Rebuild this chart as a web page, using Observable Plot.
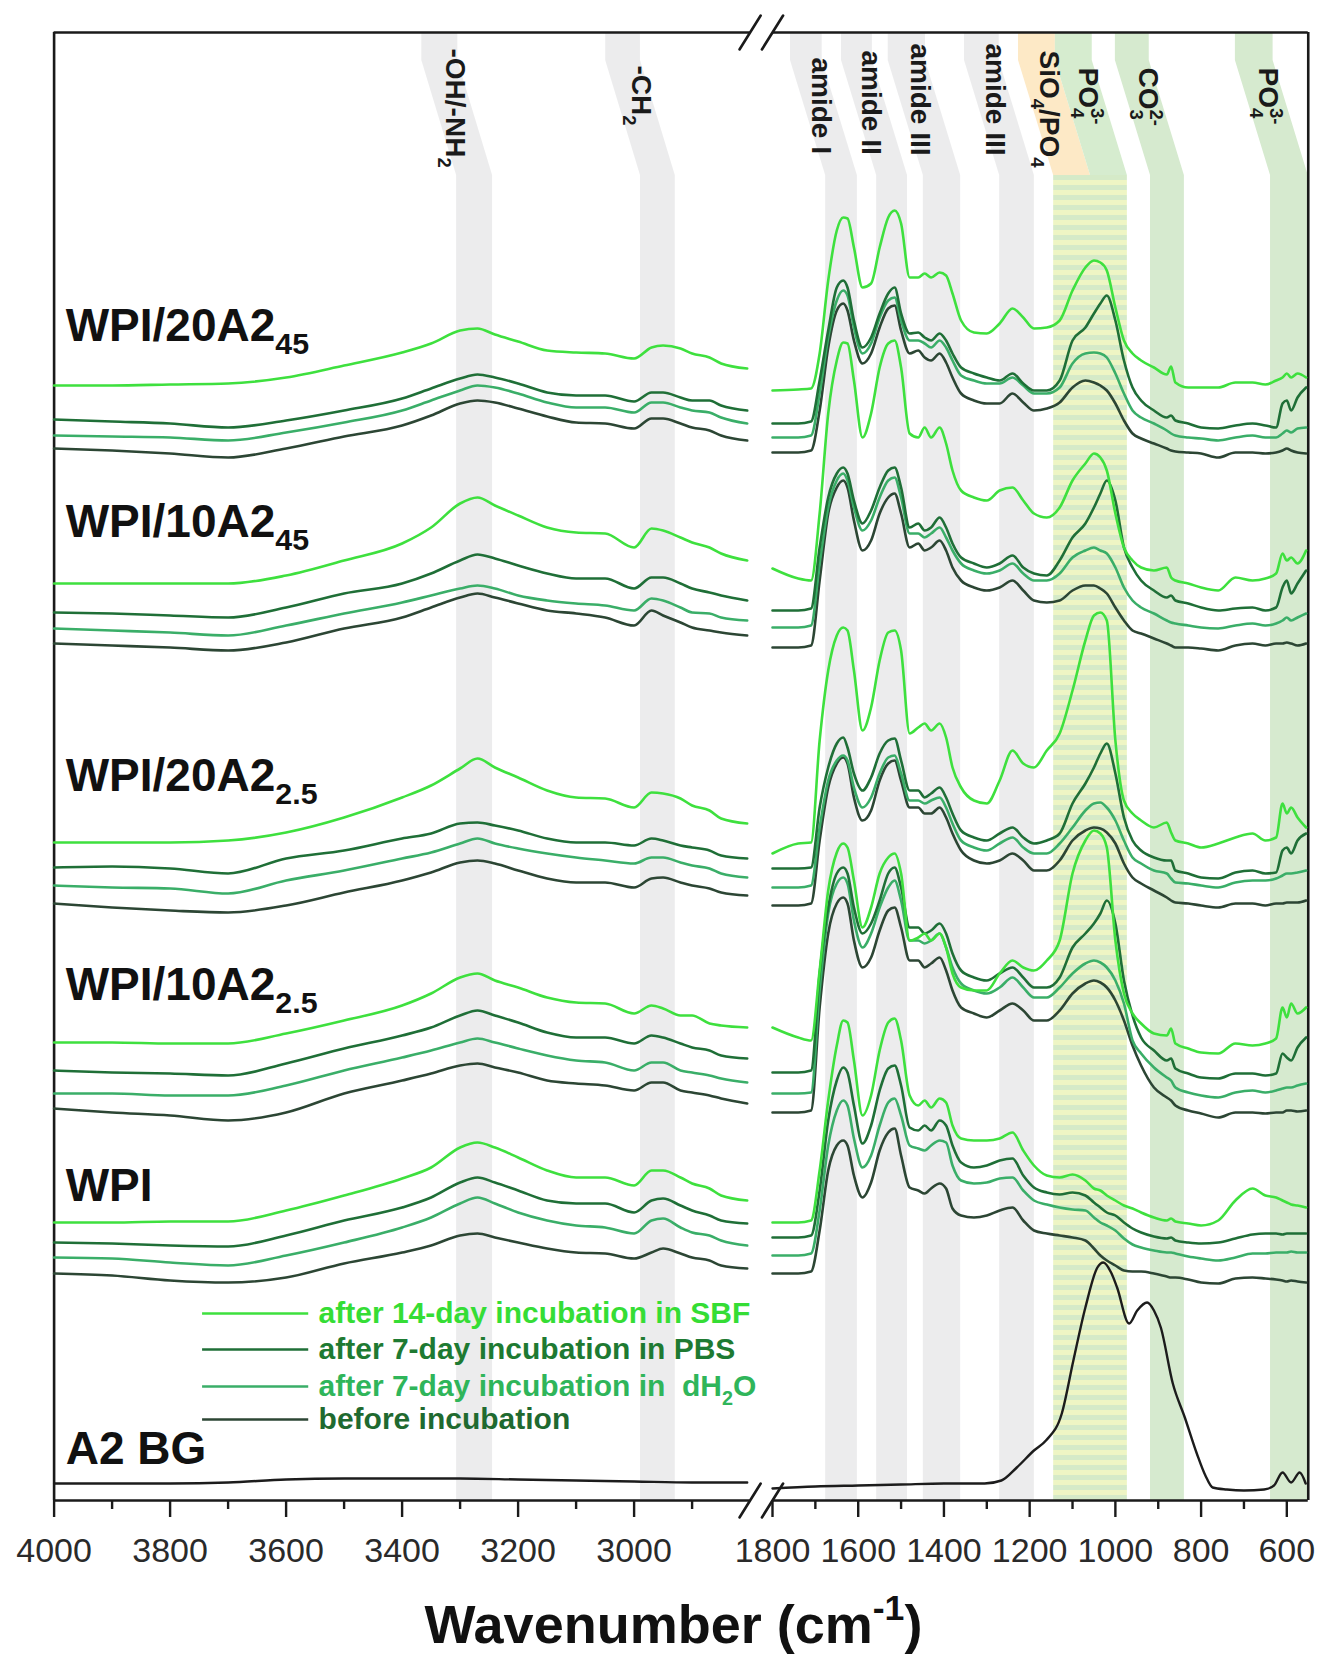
<!DOCTYPE html>
<html><head><meta charset="utf-8">
<script src="https://cdn.jsdelivr.net/npm/d3@7"></script>
<script src="https://cdn.jsdelivr.net/npm/@observablehq/plot@0.6"></script>
<style>
html,body{margin:0;padding:0;background:#fff;}
#chart{width:1322px;height:1655px;overflow:hidden;}
</style></head>
<body><div id="chart"></div>
<script>
// ---------- wavenumber grids (cm-1) ----------
const L = [4000,3900,3800,3700,3600,3500,3400,3350,3300,3270,3240,3200,3150,3100,3050,3000,2970,2950,2920,2900,2870,2850,2805];
const R = [1800,1740,1710,1690,1670,1650,1635,1625,1610,1590,1570,1550,1530,1515,1500,1480,1460,1445,1430,1410,1395,1380,1360,1330,1300,1270,1240,1215,1190,1160,1130,1100,1070,1050,1035,1020,1000,980,960,940,910,880,870,860,830,800,760,720,680,650,625,610,600,590,575,555];

// ---------- stacked absorbance (a.u., offset) : WPI/20A2_45 ----------
const g1_sbf_L = [1115,1115,1116,1117,1123,1135,1148,1157,1170,1172,1166,1159,1150,1148,1147,1142,1153,1155,1152,1147,1143,1137,1132];
const g1_pbs_L = [1081,1079,1077,1073,1080,1090,1102,1112,1122,1126,1123,1117,1108,1105,1105,1099,1108,1108,1103,1100,1100,1095,1090];
const g1_dh2o_L = [1065,1064,1063,1060,1068,1078,1090,1100,1110,1115,1113,1107,1098,1093,1093,1088,1098,1098,1093,1090,1088,1083,1077];
const g1_before_L = [1052,1050,1047,1043,1052,1064,1075,1085,1097,1100,1098,1092,1084,1078,1077,1072,1082,1082,1077,1073,1070,1065,1060];
const g1_sbf_R = [1110,1111,1112,1147,1220,1270,1283,1282,1253,1213,1217,1253,1283,1290,1277,1223,1223,1227,1223,1228,1225,1207,1180,1168,1167,1177,1192,1183,1172,1173,1180,1210,1233,1240,1238,1230,1193,1160,1147,1140,1133,1126,1134,1118,1113,1113,1113,1118,1118,1116,1120,1123,1127,1123,1127,1123];
const g1_pbs_R = [1077,1077,1079,1120,1170,1213,1220,1213,1180,1153,1163,1187,1207,1213,1187,1167,1168,1163,1160,1167,1160,1147,1133,1127,1123,1120,1127,1117,1110,1110,1120,1160,1173,1187,1197,1205,1180,1140,1113,1100,1090,1083,1085,1080,1077,1073,1072,1075,1077,1075,1073,1097,1100,1090,1103,1113];
const g1_dh2o_R = [1063,1063,1065,1107,1163,1200,1210,1205,1173,1147,1157,1183,1200,1203,1180,1160,1160,1157,1153,1160,1153,1140,1125,1120,1117,1117,1123,1115,1107,1107,1113,1137,1147,1148,1147,1143,1127,1107,1090,1083,1077,1070,1067,1065,1063,1062,1060,1063,1065,1063,1063,1067,1070,1068,1072,1073];
const g1_before_R = [1048,1048,1050,1090,1153,1190,1197,1190,1160,1137,1147,1173,1192,1195,1170,1147,1150,1143,1140,1147,1138,1123,1107,1100,1097,1097,1107,1098,1090,1092,1098,1113,1120,1118,1115,1110,1097,1080,1067,1062,1057,1052,1050,1049,1048,1047,1043,1048,1048,1047,1048,1050,1052,1050,1048,1047];

// ---------- WPI/10A2_45 ----------
const g2_sbf_L = [917,917,917,917,925,940,957,973,997,1003,995,985,973,968,967,953,972,970,963,958,953,947,940];
const g2_pbs_L = [888,887,885,883,893,907,917,927,940,946,942,935,927,922,922,912,923,923,917,912,908,905,900];
const g2_dh2o_L = [872,870,868,865,875,887,898,905,912,915,912,905,900,897,895,890,902,900,893,888,887,883,880];
const g2_before_L = [857,855,853,850,858,872,883,893,903,907,903,897,890,887,883,875,890,885,878,873,870,868,865];
const g2_sbf_R = [932,922,920,987,1087,1140,1158,1157,1120,1063,1087,1133,1157,1160,1133,1067,1063,1073,1063,1073,1057,1030,1010,1003,1000,1010,1013,1000,987,983,993,1020,1037,1047,1043,1030,987,953,940,933,930,933,923,920,917,913,910,923,920,922,927,947,940,943,937,950];
const g2_pbs_R = [890,890,892,953,1003,1027,1033,1027,1000,977,990,1013,1030,1033,1013,973,977,970,973,983,973,957,943,937,933,937,945,933,927,925,940,963,977,993,1007,1020,1000,953,933,920,910,903,905,900,897,893,890,892,893,890,893,913,920,907,917,930];
const g2_dh2o_R = [873,873,875,937,993,1020,1027,1020,993,970,980,1003,1020,1023,1003,967,967,963,967,973,963,950,937,930,927,930,937,927,920,920,927,943,950,953,950,947,933,913,900,893,887,880,878,877,875,873,872,875,877,875,877,880,883,880,883,887];
const g2_before_R = [853,853,855,920,987,1013,1020,1013,980,950,960,987,1003,1007,987,953,957,950,953,960,950,933,920,913,910,913,920,910,900,898,900,910,915,915,912,907,893,880,870,867,862,857,855,853,853,852,850,855,857,855,857,857,858,857,855,857];

// ---------- WPI/20A2_2.5 ----------
const g3_sbf_L = [658,658,658,660,668,683,703,715,732,742,733,723,710,703,702,693,708,707,702,695,690,682,677];
const g3_pbs_L = [633,634,632,627,642,650,662,667,677,678,675,670,662,658,658,655,662,660,655,653,650,645,642];
const g3_dh2o_L = [615,613,612,607,620,630,642,648,657,662,657,652,647,643,640,637,643,643,638,635,632,627,623];
const g3_before_L = [597,593,590,588,595,608,620,628,638,640,637,630,622,618,618,613,622,623,618,615,612,608,605];
const g3_sbf_R = [647,657,658,760,830,865,873,870,830,770,793,840,868,870,850,767,773,777,770,777,763,733,713,700,697,720,750,737,733,750,767,810,860,885,888,880,760,700,687,680,673,678,668,660,657,653,657,663,667,660,663,697,687,693,683,673];
const g3_pbs_R = [632,632,633,693,733,757,763,753,727,710,723,747,760,762,740,710,710,703,707,713,703,687,670,663,660,667,673,663,657,660,667,697,717,733,747,757,727,683,660,650,643,640,640,630,627,623,622,628,630,627,628,650,653,647,660,667];
const g3_dh2o_R = [613,613,615,673,720,740,745,740,713,693,703,727,743,745,727,700,700,697,700,703,693,677,660,653,650,657,663,653,647,647,657,673,690,697,698,693,680,660,643,637,630,627,622,618,617,615,613,618,620,620,622,625,627,627,628,630];
const g3_before_R = [595,595,597,660,713,737,743,737,703,680,690,720,737,740,720,693,693,687,687,693,683,667,650,640,637,640,647,640,630,630,640,660,670,673,672,668,657,637,623,617,610,603,600,598,597,595,593,597,597,595,597,597,598,598,598,600];

// ---------- WPI/10A2_2.5 ----------
const g4_sbf_L = [458,458,457,457,467,480,495,507,523,527,520,513,503,498,497,487,495,492,485,485,477,475,473];
const g4_pbs_L = [430,428,427,425,437,452,465,473,485,490,485,478,468,463,463,457,465,463,457,453,450,445,442];
const g4_dh2o_L = [407,407,405,405,415,430,443,450,458,462,458,452,445,440,438,430,438,438,430,428,425,422,418];
const g4_before_L = [392,388,385,380,388,407,420,427,435,437,433,428,420,417,415,410,418,418,410,408,405,402,397];
const g4_sbf_R = [473,463,460,530,610,648,657,653,620,573,593,627,643,647,627,560,563,567,560,567,553,527,513,510,510,527,540,533,530,540,560,627,660,670,667,653,560,507,487,477,467,465,472,457,452,448,447,457,455,457,462,493,483,497,487,493];
const g4_pbs_R = [428,428,430,527,593,627,633,627,593,567,577,600,627,633,613,573,573,567,570,577,567,547,530,523,520,527,533,523,513,513,523,553,567,577,587,600,577,520,485,463,450,440,442,432,427,423,422,427,427,425,427,447,443,440,453,463];
const g4_dh2o_R = [407,407,408,510,587,617,623,617,580,553,567,593,613,620,600,560,560,557,560,567,553,533,517,510,507,513,523,513,503,503,513,527,537,540,538,533,520,497,460,447,433,423,420,413,408,405,403,408,410,408,410,412,413,413,415,417];
const g4_before_R = [388,388,390,493,567,597,603,597,560,533,543,570,590,593,573,540,540,533,537,543,530,510,493,487,483,490,497,490,480,480,490,507,517,520,518,513,500,480,455,435,413,403,400,395,390,387,383,388,388,387,388,388,390,390,389,390];

// ---------- WPI ----------
const g5_sbf_L = [278,278,279,279,290,305,322,333,353,358,353,343,330,323,323,315,330,330,323,317,312,305,300];
const g5_pbs_L = [258,257,255,254,265,280,293,303,318,323,318,310,300,297,297,288,300,302,295,290,285,280,277];
const g5_dh2o_L = [243,242,238,235,245,258,273,283,297,303,297,288,280,275,273,267,280,282,273,268,265,260,255];
const g5_before_L = [227,225,220,218,223,237,248,255,265,267,263,258,252,248,247,242,248,252,247,243,240,235,232];
const g5_sbf_R = [278,278,280,330,400,455,480,478,440,385,405,450,478,482,460,405,395,400,393,402,398,375,362,360,360,362,368,350,335,325,323,326,320,312,310,305,300,295,292,288,283,280,282,279,277,275,280,300,312,305,303,300,298,296,295,293];
const g5_pbs_R = [263,263,265,310,380,420,433,428,395,357,375,410,432,435,415,373,370,375,370,380,375,355,338,333,335,340,342,325,313,308,306,308,305,298,293,288,285,278,272,268,264,262,263,260,258,257,258,262,266,267,267,266,267,267,267,267];
const g5_dh2o_R = [245,245,247,290,355,390,400,395,362,333,345,375,398,402,385,355,352,350,355,360,358,335,320,317,318,322,323,310,300,296,293,291,290,283,278,275,270,262,256,253,250,248,248,247,244,242,240,243,247,247,248,248,248,249,248,248];
const g5_before_R = [227,227,229,270,330,355,360,355,325,303,318,350,368,372,345,313,310,307,312,317,312,292,285,283,285,290,293,280,270,267,265,263,260,252,245,240,235,230,229,229,227,224,223,223,221,218,217,222,223,222,221,220,219,220,219,218];

// ---------- A2 BG ----------
const bgL_wn = [4000,3900,3800,3700,3600,3500,3400,3300,3200,3100,3000,2900,2805];
const bgL_v = [17,17,17,18,21,22,22,22,21,20,19,18,18];
const bgR_wn = [1800,1700,1600,1500,1400,1305,1266,1230,1190,1162,1125,1098,1070,1042,1028,1010,996,968,949,926,910,894,866,838,810,790,773,740,700,653,630,610,590,570,556];
const bgR_v = [12,14,15,16,17,17,20,33,50,60,87,140,193,233,238,228,213,177,190,198,190,173,117,83,47,25,13,11,10,11,15,28,18,28,17];

// ---------- series / legend ----------
const seriesKeys = ["before","dh2o","pbs","sbf"];
const seriesColors = ["#2c4634","#3aae68","#1f6f37","#3ee03e"];
const legendKeys = ["sbf","pbs","dh2o","before"];
const legendText = ["after 14-day incubation in SBF","after 7-day incubation in PBS","after 7-day incubation in  dH_{2}O","before incubation"];
const legendTextColors = ["#35dd35","#1e7a32","#2fb55a","#1f6a30"];
const legendV = [187,151,114,81];
const legendWn = [3744,3561,3544];

// ---------- sample labels ----------
const sampleLabels = ["WPI/20A2_{45}","WPI/10A2_{45}","WPI/20A2_{2.5}","WPI/10A2_{2.5}","WPI","A2 BG"];
const sampleLabelV = [1160,964,710,501,300,37];

// ---------- assignment bands ----------
const grayBandLo = [3306,2989,1676,1557,1448,1270];
const grayBandHi = [3244,2929,1602,1485,1361,1189];
const grayBandShift = [60,60,82,82,82,82];
const greenBandLo = [918,638];
const greenBandHi = [839,550];
const stripeBand = [1144,972];
const stripeSplit = 1058;
const bandLabels = ["-OH/-NH_{2}","-CH_{2}","amide I","amide II","amide III","amide III","SiO_{4}/PO_{4}","PO_{4}^{3-}","CO_{3}^{2-}","PO_{4}^{3-}"];
const bandLabelWn = [3308,2989,1688,1571,1455,1280,1156,1063,925,645];
const bandLabelV = [1452,1435,1443,1450,1457,1457,1450,1433,1433,1433];

// ---------- axis ----------
const majorTicks = [4000,3800,3600,3400,3200,3000,1800,1600,1400,1200,1000,800,600];
const minorTicks = [3900,3700,3500,3300,3100,2900,1700,1500,1300,1100,900,700];
const segLeft = [4000,2800];   // high-wavenumber segment
const segRight = [1800,550];   // fingerprint segment
const yTop = 1468;

// broken wavenumber axis: two linear segments joined by a small gap
const kLeft = 0.58, kRight = 0.4286, gap = 22.4;
function ux(wn) {
  return wn >= 2300 ? (segLeft[0] - wn) * kLeft
                    : (segLeft[0] - segLeft[1]) * kLeft + gap + (segRight[0] - wn) * kRight;
}
const uMax = ux(segRight[1]);

// ================== build tables ==================
const groups = [
  {id:"g1", L:{sbf:g1_sbf_L,pbs:g1_pbs_L,dh2o:g1_dh2o_L,before:g1_before_L}, R:{sbf:g1_sbf_R,pbs:g1_pbs_R,dh2o:g1_dh2o_R,before:g1_before_R}},
  {id:"g2", L:{sbf:g2_sbf_L,pbs:g2_pbs_L,dh2o:g2_dh2o_L,before:g2_before_L}, R:{sbf:g2_sbf_R,pbs:g2_pbs_R,dh2o:g2_dh2o_R,before:g2_before_R}},
  {id:"g3", L:{sbf:g3_sbf_L,pbs:g3_pbs_L,dh2o:g3_dh2o_L,before:g3_before_L}, R:{sbf:g3_sbf_R,pbs:g3_pbs_R,dh2o:g3_dh2o_R,before:g3_before_R}},
  {id:"g4", L:{sbf:g4_sbf_L,pbs:g4_pbs_L,dh2o:g4_dh2o_L,before:g4_before_L}, R:{sbf:g4_sbf_R,pbs:g4_pbs_R,dh2o:g4_dh2o_R,before:g4_before_R}},
  {id:"g5", L:{sbf:g5_sbf_L,pbs:g5_pbs_L,dh2o:g5_dh2o_L,before:g5_before_L}, R:{sbf:g5_sbf_R,pbs:g5_pbs_R,dh2o:g5_dh2o_R,before:g5_before_R}}
];
const rows = [];
for (const s of seriesKeys) for (const g of groups) {
  g.L[s].forEach((v,i) => rows.push({u:ux(L[i]), v, key:`${g.id}-${s}-L`, series:s}));
  g.R[s].forEach((v,i) => rows.push({u:ux(R[i]), v, key:`${g.id}-${s}-R`, series:s}));
}
const bgRows = [];
bgL_wn.forEach((w,i) => bgRows.push({u:ux(w), v:bgL_v[i], key:"bgL"}));
bgR_wn.forEach((w,i) => bgRows.push({u:ux(w), v:bgR_v[i], key:"bgR"}));

const bendLow = 1325, bendHigh = 1440;
function bandPoly(id, lo, hi, shift, from = 0) {
  return [
    {id, v: from, x1: ux(lo), x2: ux(hi)},
    {id, v: bendLow, x1: ux(lo), x2: ux(hi)},
    {id, v: bendHigh, x1: ux(lo + shift), x2: ux(hi + shift)},
    {id, v: yTop, x1: ux(lo + shift), x2: ux(hi + shift)}
  ];
}
const grayRows = grayBandLo.flatMap((lo,i) => bandPoly("g"+i, lo, grayBandHi[i], grayBandShift[i]));
const greenRows = greenBandLo.flatMap((lo,i) => bandPoly("c"+i, lo, greenBandHi[i], 82));
const stripeRows = [
  {id:"s", v:0, x1:ux(stripeBand[0]), x2:ux(stripeBand[1])},
  {id:"s", v:bendLow, x1:ux(stripeBand[0]), x2:ux(stripeBand[1])}
];
const orangeTop = bandPoly("o", stripeBand[0], stripeSplit, 82, bendLow);
const greenTop = bandPoly("gt", stripeSplit, stripeBand[1], 82, bendLow);

const legendRows = legendKeys.map((k,i) => ({series:k, v:legendV[i], text:legendText[i], color:legendTextColors[i]}));
const sampleRows = sampleLabels.map((t,i) => ({text:t, v:sampleLabelV[i], u:ux(3980)}));
const bandLabelRows = bandLabels.map((t,i) => ({text:t, u:ux(bandLabelWn[i]), v:bandLabelV[i]}));
const breakRows = [];
for (const w of [segLeft[1], segRight[0]]) for (const v of [0, yTop]) breakRows.push({u:ux(w), v});
const tickLabel = new Map(majorTicks.map(t => [Math.round(ux(t) * 100), String(t)]));

const FONT = "'Liberation Sans', Arial, Helvetica, sans-serif";
const INK = "#1a1a1a";
const slashShape = {draw(context, l) { context.moveTo(0, 0); context.lineTo(0, -l); }};

function build(useVector) {
  const marks = [
    Plot.areaX(grayRows, {y:"v", x1:"x1", x2:"x2", z:"id", fill:"#e9e9ea", fillOpacity:0.85, curve:"linear"}),
    Plot.areaX(greenRows, {y:"v", x1:"x1", x2:"x2", z:"id", fill:"#d6eacf", curve:"linear"}),
    Plot.areaX(stripeRows, {y:"v", x1:"x1", x2:"x2", z:"id", fill:"url(#stripes)", curve:"linear"}),
    Plot.areaX(orangeTop, {y:"v", x1:"x1", x2:"x2", z:"id", fill:"#fde9c6", curve:"linear"}),
    Plot.areaX(greenTop, {y:"v", x1:"x1", x2:"x2", z:"id", fill:"#d6eccf", curve:"linear"}),
    // frame (broken)
    Plot.ruleY([0, yTop], {x1:ux(segLeft[0]), x2:ux(segLeft[1]), stroke:INK, strokeWidth:2.6}),
    Plot.ruleY([0, yTop], {x1:ux(segRight[0]), x2:ux(segRight[1]), stroke:INK, strokeWidth:2.6}),
    Plot.ruleX([ux(segLeft[0]), ux(segRight[1])], {y1:0, y2:yTop, stroke:INK, strokeWidth:2.6}),
    // axes
    Plot.axisX(minorTicks.map(ux), {anchor:"bottom", tickSize:9, tickFormat:() => "", stroke:INK, strokeWidth:2.4, label:null}),
    Plot.axisX(majorTicks.map(ux), {anchor:"bottom", tickSize:17, tickPadding:20, tickFormat:u => tickLabel.get(Math.round(u * 100)) ?? "", fontSize:34, stroke:INK, strokeWidth:2.4, fill:"#2a2a2a", label:null}),
    // spectra
    Plot.line(rows, {x:"u", y:"v", z:"key", stroke:"series", strokeWidth:2.6, curve:"monotone-x", strokeLinejoin:"round"}),
    Plot.line(bgRows, {x:"u", y:"v", z:"key", stroke:"#1c1c1c", strokeWidth:2.4, curve:"monotone-x"}),
    // labels
    Plot.text(sampleRows, {x:"u", y:"v", text:"text", textAnchor:"start", lineAnchor:"bottom", fontSize:46, fontWeight:"bold", fill:"#111"}),
    Plot.text(bandLabelRows, {x:"u", y:"v", text:"text", rotate:90, textAnchor:"start", lineAnchor:"middle", fontSize:28, fontWeight:"bold", fill:"#1a1a1a"}),
    // legend
    Plot.ruleY(legendRows, {y:"v", x1:ux(legendWn[0]), x2:ux(legendWn[1]), stroke:"series", strokeWidth:2.6}),
    Plot.text(legendRows, {x:ux(legendWn[2]), y:"v", text:"text", fill:"color", textAnchor:"start", lineAnchor:"middle", fontSize:30, fontWeight:"bold"}),
    // axis title
    Plot.text(["Wavenumber (cm^{-1})"], {frameAnchor:"bottom", dx:-8, dy:142, lineAnchor:"bottom", text:d => d, fontSize:54, fontWeight:"bold", fill:"#111"})
  ];
  if (useVector) {
    marks.push(Plot.vector(breakRows, {x:"u", y:"v", length:40, rotate:32, anchor:"middle", shape:slashShape, stroke:INK, strokeWidth:2.6}));
  } else {
    marks.push(Plot.text(breakRows, {x:"u", y:"v", text:() => "/", fontSize:44, fill:INK}));
  }
  return Plot.plot({
    width:1322, height:1655,
    marginTop:32, marginBottom:155, marginLeft:54, marginRight:14,
    style:{fontFamily:FONT, background:"#fff", overflow:"visible"},
    x:{domain:[0, uMax], range:[53.6, 53.6 + uMax]},
    y:{domain:[0, yTop], range:[1500, 32], axis:null},
    color:{domain:seriesKeys, range:seriesColors},
    marks
  });
}

let svg;
try { svg = build(true); } catch (e) { console.error(e); svg = build(false); }
document.getElementById("chart").appendChild(svg);

// stripe pattern for the SiO4/PO4 band
const NS = "http://www.w3.org/2000/svg";
const defs = document.createElementNS(NS, "defs");
const pat = document.createElementNS(NS, "pattern");
pat.setAttribute("id", "stripes"); pat.setAttribute("patternUnits", "userSpaceOnUse");
pat.setAttribute("width", "10"); pat.setAttribute("height", "10");
const r1 = document.createElementNS(NS, "rect");
r1.setAttribute("width", "10"); r1.setAttribute("height", "10"); r1.setAttribute("fill", "#d5eac8");
const r2 = document.createElementNS(NS, "rect");
r2.setAttribute("width", "10"); r2.setAttribute("height", "5"); r2.setAttribute("fill", "#eef5c4");
pat.appendChild(r1); pat.appendChild(r2); defs.appendChild(pat);
svg.insertBefore(defs, svg.firstChild);

// subscripts / superscripts
function richify(root) {
  root.querySelectorAll("text").forEach(t => {
    if (t.querySelector("tspan")) return;
    const s = t.textContent;
    if (!/[_^]\{/.test(s)) return;
    const fs = parseFloat(getComputedStyle(t).fontSize) || 20;
    const tokens = [];
    const re = /([_^])\{([^}]*)\}/g;
    let last = 0, m;
    while ((m = re.exec(s))) {
      if (m.index > last) tokens.push({k:"n", s:s.slice(last, m.index)});
      tokens.push({k:m[1] === "_" ? "sub" : "sup", s:m[2]});
      last = re.lastIndex;
    }
    if (last < s.length) tokens.push({k:"n", s:s.slice(last)});
    t.textContent = "";
    let cur = 0, prev = null;
    for (const tok of tokens) {
      const ts = document.createElementNS(NS, "tspan");
      const target = tok.k === "sub" ? 0.3 * fs : tok.k === "sup" ? -0.42 * fs : 0;
      const d = target - cur;
      if (d) ts.setAttribute("dy", d.toFixed(2));
      if (tok.k !== "n") ts.setAttribute("font-size", (0.66 * fs).toFixed(2));
      if (tok.k === "sup" && prev && prev.k === "sub") ts.setAttribute("dx", (-0.37 * fs * prev.s.length).toFixed(2));
      ts.textContent = tok.s;
      t.appendChild(ts);
      cur = target; prev = tok;
    }
  });
}
richify(svg);
</script>
</body></html>
